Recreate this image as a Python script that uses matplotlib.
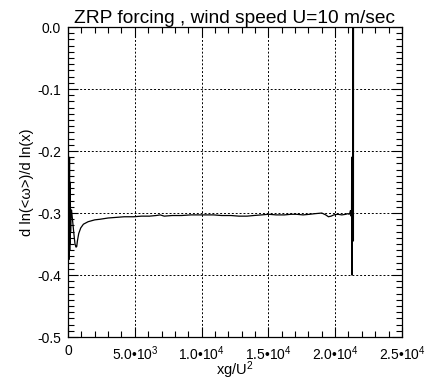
import numpy as np
import matplotlib.pyplot as plt
from matplotlib.ticker import MultipleLocator, FuncFormatter

plt.rcParams['font.family'] = ['Liberation Sans', 'DejaVu Sans']
plt.rcParams['mathtext.fontset'] = 'custom'
plt.rcParams['mathtext.rm'] = 'Liberation Sans'
plt.rcParams['mathtext.it'] = 'Liberation Sans'

# slope of the enstrophy decay vs fetch
xg = [0, 20, 35, 50, 65, 80, 95, 110, 125, 140, 155, 170, 190, 220, 260,
      330, 420, 520, 600, 650, 700, 800, 950, 1150, 1500, 2000, 2400,
      3000, 3600, 4200, 4900, 5500, 6100, 6600, 6900, 7200, 7800, 8500,
      9200, 9900, 10500, 10900, 11500, 12200, 12800, 13400, 13900, 14500,
      15000, 15600, 16200, 16700, 17100, 17600, 18100, 18500, 19000,
      19300, 19500, 19700, 19900, 20200, 20500, 20800, 20950, 21050,
      21100, 21150, 21200, 21230, 21240, 21250, 21255, 21260, 21300,
      21340, 21350, 21360, 21370, 21390, 21480, 21490]
slope = [1.0, -0.05, -0.36, -0.22, -0.375, -0.24, -0.37, -0.21, -0.36,
         -0.25, -0.35, -0.27, -0.33, -0.30, -0.295, -0.31, -0.33, -0.35,
         -0.355, -0.354, -0.345, -0.333, -0.324, -0.318, -0.314, -0.311,
         -0.310, -0.308, -0.307, -0.306, -0.306, -0.305, -0.305, -0.304,
         -0.303, -0.305, -0.304, -0.304, -0.303, -0.303, -0.303, -0.303,
         -0.304, -0.304, -0.305, -0.305, -0.304, -0.303, -0.302, -0.303,
         -0.303, -0.302, -0.302, -0.303, -0.302, -0.301, -0.300, -0.303,
         -0.306, -0.305, -0.303, -0.302, -0.303, -0.302, -0.301, -0.302,
         -0.300, -0.296, -0.305, -0.300, -0.21, -0.21, -0.40, -0.30,
         -0.30, -0.31, 1.0, -0.345, -0.345, 1.0, 1.0, 1.0]

fig = plt.figure(figsize=(4.28, 3.83), dpi=100)
ax = fig.add_axes([0.159, 0.120, 0.780, 0.8094])

ax.plot(xg, slope, color='black', lw=0.9)

ax.set_xlim(0, 25000)
ax.set_ylim(-0.5, 0.0)

def xfmt(v, pos):
    if v <= 0:
        return '0'
    e = int(np.floor(np.log10(v)))
    return '%.1f\u2022$10^{%d}$' % (v / 10 ** e, e)

ax.xaxis.set_major_locator(MultipleLocator(5000))
ax.xaxis.set_minor_locator(MultipleLocator(1000))
ax.xaxis.set_major_formatter(FuncFormatter(xfmt))
ax.yaxis.set_major_locator(MultipleLocator(0.1))
ax.yaxis.set_minor_locator(MultipleLocator(0.01))
ax.yaxis.set_major_formatter(FuncFormatter(lambda v, p: '%.1f' % v))

ax.tick_params(which='both', direction='in', top=True, right=True,
               labelsize=10, width=0.8)
ax.tick_params(which='major', length=7, pad=5)
ax.tick_params(which='minor', length=4)

for v in [5000, 10000, 15000, 20000]:
    ax.axvline(v, color='black', lw=0.7, ls=(0, (2, 2)))
for v in [-0.1, -0.2, -0.3, -0.4]:
    ax.axhline(v, color='black', lw=0.7, ls=(0, (2, 2)))

for s in ax.spines.values():
    s.set_linewidth(0.9)

ax.set_title('ZRP forcing , wind speed U=10 m/sec', fontsize=13.8, pad=3)
ax.set_xlabel('xg/U$^2$', fontsize=10.5, labelpad=-2)
ax.set_ylabel('d ln(<\u03c9>)/d ln(x)', fontsize=10.5, labelpad=2)

fig.savefig('out.png', dpi=100)
